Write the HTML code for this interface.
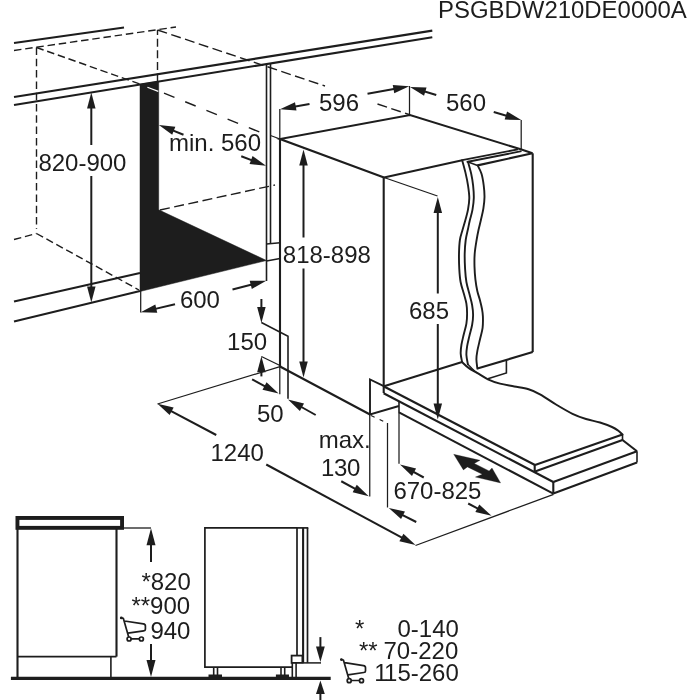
<!DOCTYPE html>
<html><head><meta charset="utf-8"><title>Diagram</title>
<style>
html,body{margin:0;padding:0;background:#fff;}
body{width:700px;height:700px;overflow:hidden;}
svg{display:block;filter:grayscale(1);}
svg text{font-family:"Liberation Sans",sans-serif;}
</style></head><body>
<svg width="700" height="700" viewBox="0 0 700 700">
<rect width="700" height="700" fill="#fff"/>
<line x1="14" y1="43" x2="124" y2="27.5" stroke="#1d1d1b" stroke-width="2.1" stroke-linecap="butt"/>
<line x1="14" y1="97" x2="432.3" y2="30.6" stroke="#1d1d1b" stroke-width="2.1" stroke-linecap="butt"/>
<line x1="14" y1="105" x2="432.3" y2="37.2" stroke="#1d1d1b" stroke-width="2.1" stroke-linecap="butt"/>
<line x1="14" y1="50.5" x2="176" y2="27" stroke="#1d1d1b" stroke-width="1.4" stroke-linecap="butt" stroke-dasharray="7.5 3.8"/>
<line x1="36.5" y1="47.5" x2="36.5" y2="229" stroke="#1d1d1b" stroke-width="1.4" stroke-linecap="butt" stroke-dasharray="7.5 3.8"/>
<line x1="157.5" y1="81.5" x2="157.5" y2="30" stroke="#1d1d1b" stroke-width="1.4" stroke-linecap="butt" stroke-dasharray="8 3.6"/>
<line x1="36.5" y1="47.5" x2="140" y2="84" stroke="#1d1d1b" stroke-width="1.4" stroke-linecap="butt" stroke-dasharray="7.5 3.8"/>
<line x1="164" y1="93.1" x2="266" y2="134.7" stroke="#1d1d1b" stroke-width="1.4" stroke-linecap="butt" stroke-dasharray="11.3 11.6"/>
<line x1="270.5" y1="135.5" x2="280" y2="139" stroke="#1d1d1b" stroke-width="1.25" stroke-linecap="butt"/>
<line x1="157.5" y1="30" x2="325" y2="86" stroke="#1d1d1b" stroke-width="1.4" stroke-linecap="butt" stroke-dasharray="10 4.5"/>
<line x1="377.5" y1="104" x2="409" y2="114.5" stroke="#1d1d1b" stroke-width="1.4" stroke-linecap="butt" stroke-dasharray="10 4.5"/>
<line x1="14" y1="239.5" x2="36.5" y2="233.5" stroke="#1d1d1b" stroke-width="1.4" stroke-linecap="butt" stroke-dasharray="7.5 3.8"/>
<line x1="36.5" y1="233.5" x2="139" y2="290" stroke="#1d1d1b" stroke-width="1.4" stroke-linecap="butt" stroke-dasharray="7.5 3.8"/>
<line x1="160" y1="210" x2="275" y2="185" stroke="#1d1d1b" stroke-width="1.4" stroke-linecap="butt" stroke-dasharray="10 4.5"/>
<polygon points="140,84.3 158.7,81.3 158.7,209.8 266.5,260.5 140,291.5" fill="#1d1d1b" stroke="#1d1d1b" stroke-width="0.5" stroke-linejoin="miter"/>
<line x1="147.4" y1="87.2" x2="158.3" y2="91.4" stroke="#fff" stroke-width="1.2" stroke-linecap="butt"/>
<line x1="14" y1="301.5" x2="140" y2="273" stroke="#1d1d1b" stroke-width="2.1" stroke-linecap="butt"/>
<line x1="14" y1="321.5" x2="140" y2="291" stroke="#1d1d1b" stroke-width="2.1" stroke-linecap="butt"/>
<line x1="266.5" y1="64.3" x2="266.5" y2="281" stroke="#1d1d1b" stroke-width="1.6" stroke-linecap="butt"/>
<line x1="270.5" y1="63.7" x2="270.5" y2="244" stroke="#1d1d1b" stroke-width="1.6" stroke-linecap="butt"/>
<line x1="266.5" y1="244" x2="280" y2="242.8" stroke="#1d1d1b" stroke-width="1.6" stroke-linecap="butt"/>
<line x1="266.5" y1="261" x2="280" y2="258.5" stroke="#1d1d1b" stroke-width="1.6" stroke-linecap="butt"/>
<line x1="91.3" y1="145" x2="91.3" y2="105.3" stroke="#1d1d1b" stroke-width="2.0" stroke-linecap="butt"/>
<polygon points="91.30,92.50 95.55,108.50 87.05,108.50" fill="#1d1d1b"/>
<line x1="91.3" y1="176" x2="91.3" y2="289.7" stroke="#1d1d1b" stroke-width="2.0" stroke-linecap="butt"/>
<polygon points="91.30,302.50 87.05,286.50 95.55,286.50" fill="#1d1d1b"/>
<line x1="183.5" y1="134.7" x2="170.79115727003744" y2="129.63712769294176" stroke="#1d1d1b" stroke-width="2.0" stroke-linecap="butt"/>
<polygon points="158.90,124.90 175.34,126.87 172.19,134.77" fill="#1d1d1b"/>
<line x1="241.25" y1="156.25" x2="254.05006798949967" y2="161.16315741011098" stroke="#1d1d1b" stroke-width="2.0" stroke-linecap="butt"/>
<polygon points="266.00,165.75 249.54,163.98 252.59,156.05" fill="#1d1d1b"/>
<line x1="140.7" y1="290" x2="140.7" y2="312.5" stroke="#1d1d1b" stroke-width="1.25" stroke-linecap="butt"/>
<line x1="175" y1="304.3" x2="153.16543549986875" y2="309.392609795949" stroke="#1d1d1b" stroke-width="2.0" stroke-linecap="butt"/>
<polygon points="140.70,312.30 155.32,304.53 157.25,312.80" fill="#1d1d1b"/>
<line x1="232.5" y1="289.5" x2="253.85963970347774" y2="283.9623156324317" stroke="#1d1d1b" stroke-width="2.0" stroke-linecap="butt"/>
<polygon points="266.25,280.75 251.83,288.88 249.70,280.65" fill="#1d1d1b"/>
<line x1="279.8" y1="109" x2="279.8" y2="140" stroke="#1d1d1b" stroke-width="1.25" stroke-linecap="butt"/>
<line x1="309.5" y1="104" x2="292.60565949551005" y2="106.97798544485924" stroke="#1d1d1b" stroke-width="2.0" stroke-linecap="butt"/>
<polygon points="280.00,109.20 295.02,102.24 296.49,110.61" fill="#1d1d1b"/>
<line x1="367.5" y1="93.75" x2="396.6516650426636" y2="88.5131739444317" stroke="#1d1d1b" stroke-width="2.0" stroke-linecap="butt"/>
<polygon points="409.25,86.25 394.25,93.26 392.75,84.90" fill="#1d1d1b"/>
<line x1="409.5" y1="86" x2="409.5" y2="115" stroke="#1d1d1b" stroke-width="1.25" stroke-linecap="butt"/>
<line x1="436.25" y1="95" x2="422.24401256281925" y2="90.7315085905735" stroke="#1d1d1b" stroke-width="2.0" stroke-linecap="butt"/>
<polygon points="410.00,87.00 426.54,87.60 424.07,95.73" fill="#1d1d1b"/>
<line x1="493.75" y1="112" x2="508.95950020347425" y2="116.42458187737432" stroke="#1d1d1b" stroke-width="2.0" stroke-linecap="butt"/>
<polygon points="521.25,120.00 504.70,119.61 507.07,111.45" fill="#1d1d1b"/>
<line x1="521.2" y1="120" x2="521.2" y2="149" stroke="#1d1d1b" stroke-width="1.25" stroke-linecap="butt"/>
<polyline points="384,177.5 280,139 410,115 520.7,149.3 532.5,153.3" fill="none" stroke="#1d1d1b" stroke-width="2.1" stroke-linejoin="miter"/>
<line x1="384" y1="177.5" x2="462.2" y2="160.2" stroke="#1d1d1b" stroke-width="2.1" stroke-linecap="butt"/>
<line x1="462.2" y1="160.2" x2="518" y2="149.3" stroke="#1d1d1b" stroke-width="1.8" stroke-linecap="butt"/>
<line x1="466.7" y1="162.0" x2="521.5" y2="151.2" stroke="#1d1d1b" stroke-width="1.8" stroke-linecap="butt"/>
<line x1="477.6" y1="165.4" x2="532.5" y2="153.3" stroke="#1d1d1b" stroke-width="2.1" stroke-linecap="butt"/>
<line x1="467.5" y1="161.8" x2="477.6" y2="165.4" stroke="#1d1d1b" stroke-width="1.6" stroke-linecap="butt"/>
<line x1="280" y1="139" x2="280" y2="367" stroke="#1d1d1b" stroke-width="2.1" stroke-linecap="butt"/>
<line x1="279.8" y1="366" x2="279.8" y2="394.3" stroke="#1d1d1b" stroke-width="1.25" stroke-linecap="butt"/>
<line x1="383.7" y1="177.5" x2="383.7" y2="393" stroke="#1d1d1b" stroke-width="2.1" stroke-linecap="butt"/>
<line x1="532.7" y1="153.3" x2="532.7" y2="352.1" stroke="#1d1d1b" stroke-width="2.1" stroke-linecap="butt"/>
<path d="M462.2,160.2 C462.73,162.23 464.43,168.22 465.4,172.4 C466.37,176.58 467.35,181.02 468,185.3 C468.65,189.58 469.30,194.03 469.3,198.1 C469.30,202.17 468.65,206.05 468,209.7 C467.35,213.35 466.32,216.62 465.4,220 C464.48,223.38 463.42,226.67 462.5,230 C461.58,233.33 460.48,236.05 459.9,240 C459.32,243.95 459.10,248.85 459,253.7 C458.90,258.55 459.03,264.38 459.3,269.1 C459.57,273.82 459.85,277.92 460.6,282 C461.35,286.08 462.83,290.00 463.8,293.6 C464.77,297.20 465.85,300.27 466.4,303.6 C466.95,306.93 467.10,310.27 467.1,313.6 C467.10,316.93 466.98,320.03 466.4,323.6 C465.82,327.17 464.43,331.43 463.6,335 C462.77,338.57 461.88,341.90 461.4,345 C460.92,348.10 460.58,350.75 460.7,353.6 C460.82,356.45 461.87,360.68 462.1,362.1" fill="none" stroke="#1d1d1b" stroke-width="1.9" stroke-linejoin="round" stroke-linecap="round"/>
<path d="M468,161.8 C468.53,163.78 470.35,169.78 471.2,173.7 C472.05,177.62 472.67,181.23 473.1,185.3 C473.53,189.37 473.90,194.03 473.8,198.1 C473.70,202.17 473.15,206.05 472.5,209.7 C471.85,213.35 470.65,216.78 469.9,220 C469.15,223.22 468.70,225.67 468,229 C467.30,232.33 466.25,235.88 465.7,240 C465.15,244.12 464.80,248.85 464.7,253.7 C464.60,258.55 464.82,264.38 465.1,269.1 C465.38,273.82 465.70,277.92 466.4,282 C467.10,286.08 468.35,289.77 469.3,293.6 C470.25,297.43 471.47,301.43 472.1,305 C472.73,308.57 473.10,311.67 473.1,315 C473.10,318.33 472.73,321.43 472.1,325 C471.47,328.57 470.13,332.83 469.3,336.4 C468.47,339.97 467.58,343.30 467.1,346.4 C466.62,349.50 466.27,352.02 466.4,355 C466.53,357.98 467.65,362.75 467.9,364.3" fill="none" stroke="#1d1d1b" stroke-width="1.9" stroke-linejoin="round" stroke-linecap="round"/>
<path d="M477.6,165.4 C478.25,166.78 480.48,170.38 481.5,173.7 C482.52,177.02 483.20,181.43 483.7,185.3 C484.20,189.17 484.55,193.05 484.5,196.9 C484.45,200.75 484.00,204.55 483.4,208.4 C482.80,212.25 481.72,216.40 480.9,220 C480.08,223.60 479.22,226.67 478.5,230 C477.78,233.33 477.23,236.05 476.6,240 C475.97,243.95 475.05,249.27 474.7,253.7 C474.35,258.13 474.38,262.32 474.5,266.6 C474.62,270.88 474.93,275.33 475.4,279.4 C475.87,283.47 476.55,287.57 477.3,291 C478.05,294.43 479.12,297.00 479.9,300 C480.68,303.00 481.50,306.27 482,309 C482.50,311.73 482.80,313.25 482.9,316.4 C483.00,319.55 483.08,324.08 482.6,327.9 C482.12,331.72 480.87,335.50 480,339.3 C479.13,343.10 478.00,347.37 477.4,350.7 C476.80,354.03 476.40,356.32 476.4,359.3 C476.40,362.28 477.23,367.05 477.4,368.6" fill="none" stroke="#1d1d1b" stroke-width="1.9" stroke-linejoin="round" stroke-linecap="round"/>
<line x1="477.4" y1="368.6" x2="532.7" y2="352.1" stroke="#1d1d1b" stroke-width="2.1" stroke-linecap="butt"/>
<polyline points="506.4,360.2 506.4,372.9 487.9,378.8" fill="none" stroke="#1d1d1b" stroke-width="1.6" stroke-linejoin="miter"/>
<line x1="384" y1="386.2" x2="462.1" y2="362.1" stroke="#1d1d1b" stroke-width="2.1" stroke-linecap="butt"/>
<path d="M462.1,362.1 C463.18,363.07 466.10,366.10 468.6,367.9 C471.10,369.70 473.88,371.00 477.1,372.9 C480.32,374.80 484.08,377.52 487.9,379.3 C491.72,381.08 495.60,382.42 500,383.6 C504.40,384.78 509.53,385.45 514.3,386.4 C519.07,387.35 524.32,387.98 528.6,389.3 C532.88,390.62 535.43,391.77 540,394.3 C544.57,396.83 550.58,401.25 556,404.5 C561.42,407.75 567.50,411.38 572.5,413.8 C577.50,416.22 581.42,417.55 586,419 C590.58,420.45 595.67,421.17 600,422.5 C604.33,423.83 609.00,425.67 612,427 C615.00,428.33 616.25,429.25 618,430.5 C619.75,431.75 621.75,433.83 622.5,434.5" fill="none" stroke="#1d1d1b" stroke-width="2.0" stroke-linejoin="round" stroke-linecap="round"/>
<path d="M467.9,364.3 C468.58,365.00 470.47,367.07 472,368.5 C473.53,369.93 476.25,372.17 477.1,372.9" fill="none" stroke="#1d1d1b" stroke-width="1.25" stroke-linejoin="round" stroke-linecap="round"/>
<line x1="384" y1="386.5" x2="535" y2="465" stroke="#1d1d1b" stroke-width="2.1" stroke-linecap="butt"/>
<line x1="383.6" y1="393.2" x2="553.3" y2="482" stroke="#1d1d1b" stroke-width="2.1" stroke-linecap="butt"/>
<line x1="535" y1="465" x2="622.5" y2="434.5" stroke="#1d1d1b" stroke-width="2.1" stroke-linecap="butt"/>
<line x1="535" y1="471.4" x2="622.5" y2="440" stroke="#1d1d1b" stroke-width="2.1" stroke-linecap="butt"/>
<line x1="534.7" y1="464.8" x2="534.7" y2="471.6" stroke="#1d1d1b" stroke-width="2.1" stroke-linecap="butt"/>
<line x1="622.5" y1="434.5" x2="622.5" y2="440" stroke="#1d1d1b" stroke-width="1.6" stroke-linecap="butt"/>
<line x1="622.5" y1="440" x2="637" y2="451.25" stroke="#1d1d1b" stroke-width="2.1" stroke-linecap="butt"/>
<line x1="399" y1="412.4" x2="553.3" y2="493.6" stroke="#1d1d1b" stroke-width="2.1" stroke-linecap="butt"/>
<line x1="553.3" y1="482" x2="637" y2="451.25" stroke="#1d1d1b" stroke-width="2.1" stroke-linecap="butt"/>
<line x1="553.3" y1="493.6" x2="637" y2="462.5" stroke="#1d1d1b" stroke-width="2.1" stroke-linecap="butt"/>
<line x1="553.3" y1="482" x2="553.3" y2="493.6" stroke="#1d1d1b" stroke-width="2.1" stroke-linecap="butt"/>
<line x1="637" y1="451.25" x2="637" y2="462.5" stroke="#1d1d1b" stroke-width="1.6" stroke-linecap="butt"/>
<polyline points="383.8,386.2 370,379.5 370,414.5 398.9,406" fill="none" stroke="#1d1d1b" stroke-width="1.9" stroke-linejoin="miter"/>
<line x1="261.4" y1="356.5" x2="281" y2="366" stroke="#1d1d1b" stroke-width="1.25" stroke-linecap="butt"/>
<line x1="280" y1="366.5" x2="370" y2="414.5" stroke="#1d1d1b" stroke-width="2.1" stroke-linecap="butt"/>
<line x1="157.5" y1="404" x2="280" y2="366.6" stroke="#1d1d1b" stroke-width="1.25" stroke-linecap="butt"/>
<line x1="303.5" y1="237.5" x2="303.5" y2="162.3" stroke="#1d1d1b" stroke-width="2.0" stroke-linecap="butt"/>
<polygon points="303.50,149.50 307.75,165.50 299.25,165.50" fill="#1d1d1b"/>
<line x1="303.5" y1="268.5" x2="303.5" y2="364.7" stroke="#1d1d1b" stroke-width="2.0" stroke-linecap="butt"/>
<polygon points="303.50,377.50 299.25,361.50 307.75,361.50" fill="#1d1d1b"/>
<line x1="384" y1="177.5" x2="437.5" y2="196" stroke="#1d1d1b" stroke-width="1.25" stroke-linecap="butt"/>
<line x1="437.8" y1="293.5" x2="437.8" y2="209.8" stroke="#1d1d1b" stroke-width="2.0" stroke-linecap="butt"/>
<polygon points="437.80,197.00 442.05,213.00 433.55,213.00" fill="#1d1d1b"/>
<line x1="437.8" y1="324" x2="437.8" y2="406.7" stroke="#1d1d1b" stroke-width="2.0" stroke-linecap="butt"/>
<polygon points="437.80,419.50 433.55,403.50 442.05,403.50" fill="#1d1d1b"/>
<line x1="261.4" y1="299" x2="261.4" y2="310.2" stroke="#1d1d1b" stroke-width="2.0" stroke-linecap="butt"/>
<polygon points="261.40,323.00 257.15,307.00 265.65,307.00" fill="#1d1d1b"/>
<polyline points="261.4,322.5 288,336.3 288,398.75" fill="none" stroke="#1d1d1b" stroke-width="1.6" stroke-linejoin="miter"/>
<line x1="261.4" y1="376.4" x2="261.4" y2="369.1" stroke="#1d1d1b" stroke-width="2.0" stroke-linecap="butt"/>
<polygon points="261.40,356.30 265.65,372.30 257.15,372.30" fill="#1d1d1b"/>
<line x1="252.1" y1="379.3" x2="267.3354341990123" y2="387.52138524701417" stroke="#1d1d1b" stroke-width="2.0" stroke-linecap="butt"/>
<polygon points="278.60,393.60 262.50,389.74 266.54,382.26" fill="#1d1d1b"/>
<line x1="315.7" y1="415" x2="299.1701393288002" y2="405.7504389745994" stroke="#1d1d1b" stroke-width="2.0" stroke-linecap="butt"/>
<polygon points="288.00,399.50 304.04,403.60 299.89,411.02" fill="#1d1d1b"/>
<line x1="216.25" y1="435" x2="168.8007665817508" y2="409.76104605412274" stroke="#1d1d1b" stroke-width="2.0" stroke-linecap="butt"/>
<polygon points="157.50,403.75 173.62,407.51 169.63,415.02" fill="#1d1d1b"/>
<line x1="266.25" y1="464.5" x2="404.2342142449079" y2="538.9236465441546" stroke="#1d1d1b" stroke-width="2.0" stroke-linecap="butt"/>
<polygon points="415.50,545.00 399.40,541.15 403.44,533.66" fill="#1d1d1b"/>
<line x1="415.5" y1="545.5" x2="553.6" y2="494.3" stroke="#1d1d1b" stroke-width="1.25" stroke-linecap="butt"/>
<line x1="369.75" y1="415" x2="369.75" y2="496.5" stroke="#1d1d1b" stroke-width="1.25" stroke-linecap="butt"/>
<line x1="371" y1="415.5" x2="387.5" y2="423.2" stroke="#1d1d1b" stroke-width="1.25" stroke-linecap="butt" stroke-dasharray="4 5.5"/>
<line x1="387.5" y1="423" x2="387.5" y2="507.5" stroke="#1d1d1b" stroke-width="1.25" stroke-linecap="butt"/>
<line x1="341.25" y1="481.25" x2="357.51293666669585" y2="490.12069272728866" stroke="#1d1d1b" stroke-width="2.0" stroke-linecap="butt"/>
<polygon points="368.75,496.25 352.67,492.32 356.74,484.86" fill="#1d1d1b"/>
<line x1="416.25" y1="522" x2="400.1568878796991" y2="513.807142920574" stroke="#1d1d1b" stroke-width="2.0" stroke-linecap="butt"/>
<polygon points="388.75,508.00 404.94,511.47 401.08,519.05" fill="#1d1d1b"/>
<line x1="399" y1="401.5" x2="399" y2="412.4" stroke="#1d1d1b" stroke-width="1.6" stroke-linecap="butt"/>
<line x1="399" y1="412" x2="399" y2="463.75" stroke="#1d1d1b" stroke-width="1.25" stroke-linecap="butt"/>
<line x1="423.75" y1="477.5" x2="411.2280175242912" y2="470.6458622238226" stroke="#1d1d1b" stroke-width="2.0" stroke-linecap="butt"/>
<polygon points="400.00,464.50 416.08,468.45 411.99,475.91" fill="#1d1d1b"/>
<line x1="468.2" y1="503.5" x2="480.160403921761" y2="509.7625290920809" stroke="#1d1d1b" stroke-width="2.0" stroke-linecap="butt"/>
<polygon points="491.50,515.70 475.35,512.04 479.30,504.51" fill="#1d1d1b"/>
<polygon points="453.7,454.3 480,460.3 474.3,463.4 489.1,470.9 492,468 500.6,482.9 475.4,477.1 482.3,474.3 467.4,466.9 463.4,469.9" fill="#1d1d1b" stroke="#1d1d1b" stroke-width="0.3" stroke-linejoin="miter"/>
<rect x="17.45" y="517.95" width="104.6" height="9.9" fill="#fff" stroke="#1d1d1b" stroke-width="3.9"/>
<line x1="17.5" y1="529" x2="17.5" y2="678" stroke="#1d1d1b" stroke-width="2.1" stroke-linecap="butt"/>
<line x1="116.5" y1="529" x2="116.5" y2="656.6" stroke="#1d1d1b" stroke-width="2.1" stroke-linecap="butt"/>
<line x1="17.5" y1="656.6" x2="116.5" y2="656.6" stroke="#1d1d1b" stroke-width="1.6" stroke-linecap="butt"/>
<line x1="110.9" y1="656.6" x2="110.9" y2="678" stroke="#1d1d1b" stroke-width="1.6" stroke-linecap="butt"/>
<line x1="10.9" y1="678.3" x2="330.7" y2="678.3" stroke="#1d1d1b" stroke-width="3.3" stroke-linecap="butt"/>
<line x1="124" y1="528" x2="151" y2="528" stroke="#1d1d1b" stroke-width="1.3" stroke-linecap="butt"/>
<line x1="151" y1="562" x2="151.0" y2="541.8000000000001" stroke="#1d1d1b" stroke-width="2.0" stroke-linecap="butt"/>
<polygon points="151.00,528.20 155.50,545.20 146.50,545.20" fill="#1d1d1b"/>
<line x1="151" y1="644" x2="151.0" y2="663.4" stroke="#1d1d1b" stroke-width="2.0" stroke-linecap="butt"/>
<polygon points="151.00,677.00 146.50,660.00 155.50,660.00" fill="#1d1d1b"/>
<polyline points="297,527.9 204.9,527.9 204.9,667.1 292,667.1" fill="none" stroke="#1d1d1b" stroke-width="1.7000000000000002" stroke-linejoin="miter"/>
<line x1="297" y1="527.9" x2="297" y2="655.4" stroke="#1d1d1b" stroke-width="1.7000000000000002" stroke-linecap="butt"/>
<line x1="303.1" y1="527.9" x2="303.1" y2="662.9" stroke="#1d1d1b" stroke-width="2.1" stroke-linecap="butt"/>
<line x1="307.5" y1="527.9" x2="307.5" y2="662.9" stroke="#1d1d1b" stroke-width="1.7000000000000002" stroke-linecap="butt"/>
<line x1="297" y1="527.9" x2="308.3" y2="527.9" stroke="#1d1d1b" stroke-width="1.7000000000000002" stroke-linecap="butt"/>
<line x1="302.9" y1="662.9" x2="321" y2="662.9" stroke="#1d1d1b" stroke-width="1.5" stroke-linecap="butt"/>
<rect x="291.6" y="655.6" width="10.8" height="7.3" fill="#fff" stroke="#1d1d1b" stroke-width="1.8"/>
<line x1="292.3" y1="663" x2="292.3" y2="677" stroke="#1d1d1b" stroke-width="1.6" stroke-linecap="butt"/>
<line x1="296.1" y1="663" x2="296.1" y2="677" stroke="#1d1d1b" stroke-width="1.6" stroke-linecap="butt"/>
<line x1="213.7" y1="667.1" x2="213.7" y2="676" stroke="#1d1d1b" stroke-width="1.6" stroke-linecap="butt"/>
<line x1="217.5" y1="667.1" x2="217.5" y2="676" stroke="#1d1d1b" stroke-width="1.6" stroke-linecap="butt"/>
<line x1="281" y1="667.1" x2="281" y2="676" stroke="#1d1d1b" stroke-width="1.6" stroke-linecap="butt"/>
<line x1="284.7" y1="667.1" x2="284.7" y2="676" stroke="#1d1d1b" stroke-width="1.6" stroke-linecap="butt"/>
<line x1="208.5" y1="675.8" x2="222" y2="675.8" stroke="#1d1d1b" stroke-width="2.6" stroke-linecap="butt"/>
<line x1="275.9" y1="675.8" x2="289" y2="675.8" stroke="#1d1d1b" stroke-width="2.6" stroke-linecap="butt"/>
<line x1="320.4" y1="637.1" x2="320.4" y2="649.5" stroke="#1d1d1b" stroke-width="2.0" stroke-linecap="butt"/>
<polygon points="320.40,661.90 316.00,646.40 324.80,646.40" fill="#1d1d1b"/>
<line x1="320.4" y1="700" x2="320.4" y2="691.4" stroke="#1d1d1b" stroke-width="2.0" stroke-linecap="butt"/>
<polygon points="320.40,680.60 324.80,694.10 316.00,694.10" fill="#1d1d1b"/>
<path d="M121.1,617.9 L123.3,618.3 L128.7,637.1 M124.5,621.0 L143.4,623.9 Q145.4,624.1999999999999 145.4,626.1 L145.4,629.1999999999999 Q145.4,630.6 143.7,630.8 L127.89999999999999,633.1 M131.29999999999998,638.8 L139.2,638.8" fill="none" stroke="#1d1d1b" stroke-width="1.7" stroke-linejoin="round" stroke-linecap="round"/>
<circle cx="129.1" cy="639.0" r="2.0" fill="#fff" stroke="#1d1d1b" stroke-width="1.7"/>
<circle cx="141.4" cy="639.0" r="2.0" fill="#fff" stroke="#1d1d1b" stroke-width="1.7"/>
<circle cx="121.3" cy="617.9" r="1.4" fill="#1d1d1b"/>
<path d="M341.2,659.6 L343.4,660.0 L348.8,678.8000000000001 M344.59999999999997,662.7 L363.5,665.6 Q365.5,665.9 365.5,667.8000000000001 L365.5,670.9 Q365.5,672.3000000000001 363.8,672.5 L348.0,674.8000000000001 M351.4,680.5 L359.3,680.5" fill="none" stroke="#1d1d1b" stroke-width="1.7" stroke-linejoin="round" stroke-linecap="round"/>
<circle cx="349.2" cy="680.7" r="2.0" fill="#fff" stroke="#1d1d1b" stroke-width="1.7"/>
<circle cx="361.5" cy="680.7" r="2.0" fill="#fff" stroke="#1d1d1b" stroke-width="1.7"/>
<circle cx="341.4" cy="659.6" r="1.4" fill="#1d1d1b"/>
<text x="438" y="17.7" font-size="23.95" text-anchor="start" fill="#1d1d1b">PSGBDW210DE0000A</text>
<text x="38.4" y="170.8" font-size="24" text-anchor="start" fill="#1d1d1b">820-900</text>
<text x="169" y="150.6" font-size="24" text-anchor="start" fill="#1d1d1b">min. 560</text>
<text x="179.9" y="307.8" font-size="24" text-anchor="start" fill="#1d1d1b">600</text>
<text x="319" y="111.3" font-size="24" text-anchor="start" fill="#1d1d1b">596</text>
<text x="446" y="111.3" font-size="24" text-anchor="start" fill="#1d1d1b">560</text>
<text x="282.8" y="263" font-size="24" text-anchor="start" fill="#1d1d1b">818-898</text>
<text x="409" y="318.8" font-size="24" text-anchor="start" fill="#1d1d1b">685</text>
<text x="227.1" y="349.8" font-size="24" text-anchor="start" fill="#1d1d1b">150</text>
<text x="256.9" y="421.6" font-size="24" text-anchor="start" fill="#1d1d1b">50</text>
<text x="210.5" y="461.3" font-size="24" text-anchor="start" fill="#1d1d1b">1240</text>
<text x="318.7" y="447.5" font-size="24" text-anchor="start" fill="#1d1d1b">max.</text>
<text x="321" y="475.8" font-size="24" letter-spacing="-0.4" fill="#1d1d1b">130</text>
<text x="393.4" y="498.6" font-size="24" text-anchor="start" fill="#1d1d1b">670-825</text>
<text x="141.4" y="590" font-size="24" text-anchor="start" fill="#1d1d1b">*820</text>
<text x="131.4" y="614.3" font-size="24" text-anchor="start" fill="#1d1d1b">**900</text>
<text x="150.4" y="638.6" font-size="24" text-anchor="start" fill="#1d1d1b">940</text>
<text x="397.5" y="637" font-size="24" text-anchor="start" fill="#1d1d1b">0-140</text>
<text x="383.5" y="658.8" font-size="24" text-anchor="start" fill="#1d1d1b">70-220</text>
<text x="374.2" y="681.2" font-size="24" text-anchor="start" fill="#1d1d1b">1<tspan dx="-1.7">15-260</tspan></text>
<text x="355" y="637" font-size="24" text-anchor="start" fill="#1d1d1b">*</text>
<text x="359" y="658.8" font-size="24" text-anchor="start" fill="#1d1d1b">**</text>
</svg>
</body></html>
